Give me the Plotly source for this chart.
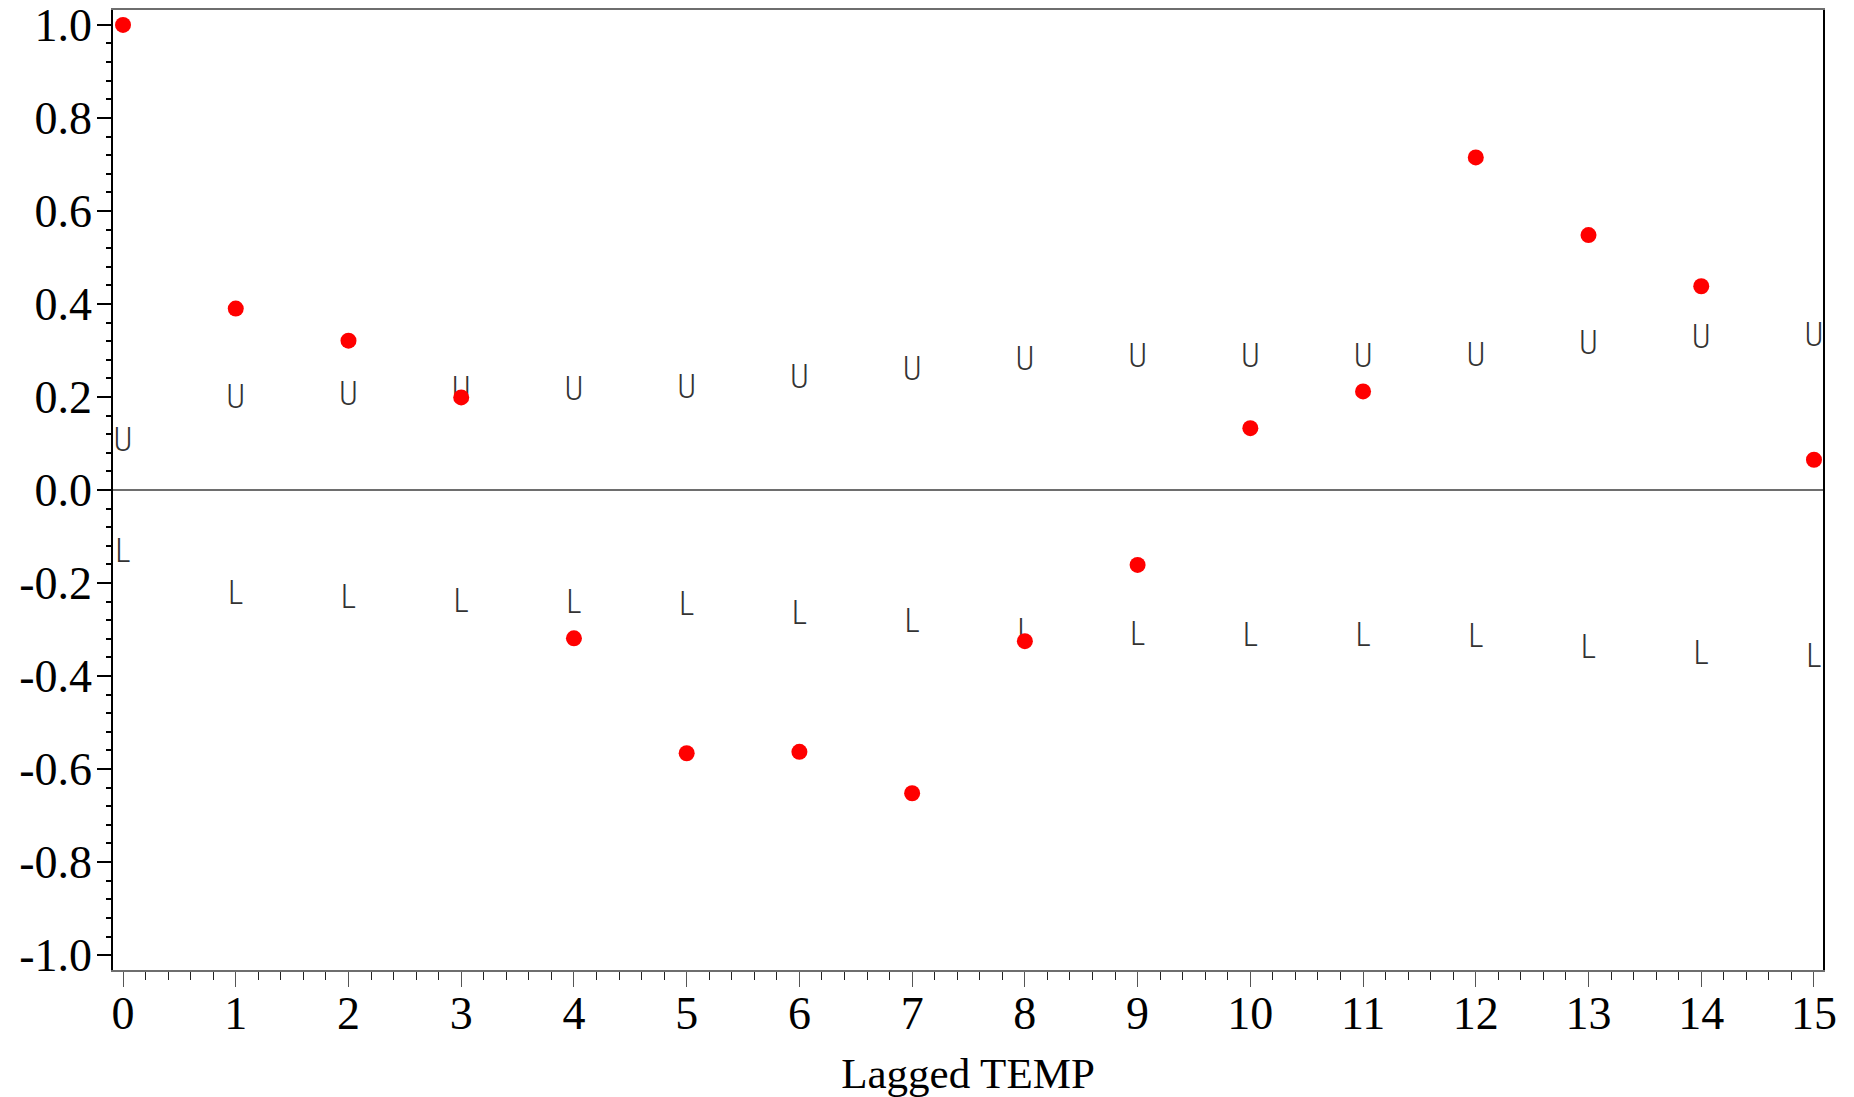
import plotly.graph_objects as go

# ---- data ----
lags = list(range(16))
acf = [1.0, 0.390, 0.321, 0.199, -0.319, -0.566, -0.563, -0.652,
       -0.325, -0.161, 0.133, 0.212, 0.715, 0.548, 0.438, 0.065]
upper = [0.110, 0.202, 0.210, 0.220, 0.220, 0.225, 0.245, 0.263,
         0.285, 0.290, 0.291, 0.291, 0.294, 0.319, 0.332, 0.337]
lower = [-0.128, -0.218, -0.228, -0.235, -0.238, -0.243, -0.261, -0.280,
         -0.301, -0.307, -0.308, -0.310, -0.312, -0.335, -0.347, -0.355]

y_tick_vals = [1.0, 0.8, 0.6, 0.4, 0.2, 0.0, -0.2, -0.4, -0.6, -0.8, -1.0]
y_tick_text = ["1.0", "0.8", "0.6", "0.4", "0.2", "0.0", "-0.2", "-0.4", "-0.6", "-0.8", "-1.0"]
x_tick_vals = lags
x_tick_text = [str(v) for v in lags]
x_title = "Lagged TEMP"

serif = "Liberation Serif, Times New Roman, serif"
narrow = "Roboto Condensed, Liberation Sans Narrow, DejaVu Sans Condensed, Arial Narrow, sans-serif"

# layout geometry
fig_w, fig_h = 1846, 1089          # page body adds an 8px margin
m_l, m_r, m_t, m_b = 105, 31, 2, 127
y_range = [-1.032, 1.032]
x_range = [-0.089, 15.08]

# plotly centres text on its font box, which sits a few px above the glyph centre;
# nudge the letter symbols down by that many pixels so the glyphs are centred on the value
glyph_px = 4
plot_h = fig_h - m_t - m_b
dy = glyph_px * (y_range[1] - y_range[0]) / plot_h
upper_pos = [v - dy for v in upper]
lower_pos = [v - dy for v in lower]

fig = go.Figure()

ul_font = dict(family=narrow, size=33, color="#333333", weight=300)

fig.add_trace(go.Scatter(
    x=lags, y=upper_pos, mode="text", text=["U"] * len(lags),
    textposition="middle center", textfont=ul_font,
    showlegend=False, hoverinfo="skip"))
fig.add_trace(go.Scatter(
    x=lags, y=lower_pos, mode="text", text=["L"] * len(lags),
    textposition="middle center", textfont=ul_font,
    showlegend=False, hoverinfo="skip"))
fig.add_trace(go.Scatter(
    x=lags, y=acf, mode="markers",
    marker=dict(color="#ff0000", size=16, line=dict(width=0)),
    showlegend=False))

fig.update_layout(
    width=fig_w, height=fig_h,
    margin=dict(l=m_l, r=m_r, t=m_t, b=m_b),
    paper_bgcolor="white", plot_bgcolor="white",
    font=dict(family=serif, color="black"),
)

fig.update_xaxes(
    range=x_range, showgrid=False, zeroline=False, automargin=False,
    showline=True, linecolor="#6e6e6e", linewidth=1.5, mirror=True,
    tickmode="array", tickvals=x_tick_vals, ticktext=x_tick_text,
    ticks="outside", ticklen=15, tickwidth=1.2, tickcolor="#555555",
    tickfont=dict(family=serif, size=46, color="black"),
    ticklabelstandoff=-13, ticklabeloverflow="allow",
    minor=dict(dtick=0.2, ticks="outside", ticklen=8, tickwidth=1.2,
               tickcolor="#222222", showgrid=False),
    title=dict(text=x_title, font=dict(family=serif, size=43, color="black"),
               standoff=23),
)

fig.update_yaxes(
    range=y_range, showgrid=False, automargin=False,
    zeroline=True, zerolinecolor="#6e6e6e", zerolinewidth=1.5,
    showline=True, linecolor="black", linewidth=1.5, mirror=True,
    tickmode="array", tickvals=y_tick_vals, ticktext=y_tick_text,
    ticks="outside", ticklen=14, tickwidth=2.2, tickcolor="black",
    tickfont=dict(family=serif, size=46, color="black"),
    ticklabelstandoff=-4, ticklabeloverflow="allow",
    minor=dict(dtick=0.04, ticks="outside", ticklen=5, tickwidth=2,
               tickcolor="black", showgrid=False),
)

fig.write_html("out.html")
